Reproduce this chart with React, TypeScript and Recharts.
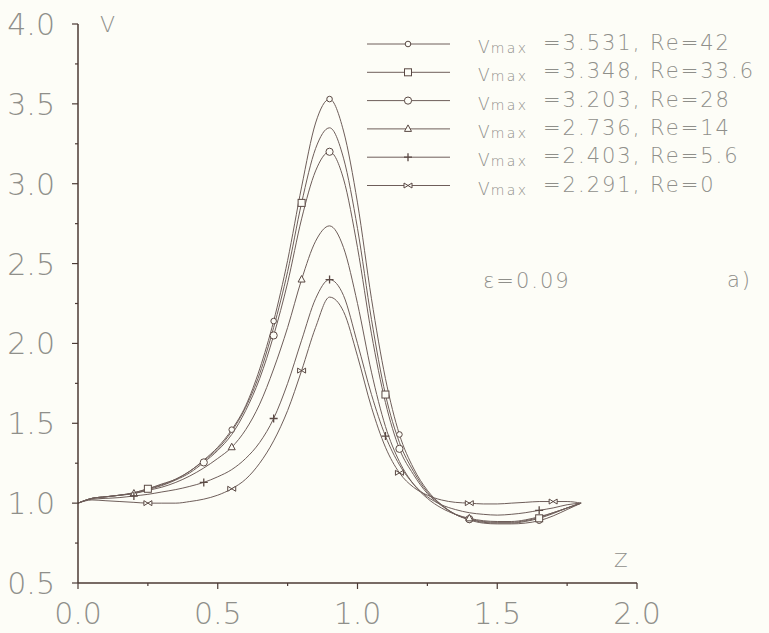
import { ComposedChart, Line, XAxis, YAxis, Legend } from "recharts";

// axial positions shared by all profiles
const zGrid = [
  0, 0.05, 0.1, 0.15, 0.2, 0.25, 0.3, 0.35, 0.4, 0.45, 0.5, 0.55, 0.6, 0.65, 0.7, 0.75, 0.8, 0.85, 0.9,
  0.95, 1.0, 1.05, 1.1, 1.15, 1.2, 1.25, 1.3, 1.35, 1.4, 1.45, 1.5, 1.55, 1.6, 1.65, 1.7, 1.75, 1.8,
];

const re42 = [
  1.0, 1.03, 1.04, 1.05, 1.065, 1.09, 1.12, 1.15, 1.2, 1.27, 1.35, 1.46, 1.61, 1.84, 2.14, 2.52, 2.98, 3.38, 3.53,
  3.33, 2.88, 2.28, 1.78, 1.43, 1.22, 1.08, 0.99, 0.93, 0.895, 0.875, 0.87, 0.87, 0.875, 0.89, 0.92, 0.96, 1.0,
];
const re336 = [
  1.0, 1.03, 1.04, 1.05, 1.065, 1.09, 1.115, 1.15, 1.2, 1.265, 1.34, 1.45, 1.6, 1.81, 2.1, 2.45, 2.88, 3.22, 3.35,
  3.16, 2.72, 2.15, 1.68, 1.38, 1.2, 1.07, 0.99, 0.93, 0.9, 0.88, 0.875, 0.875, 0.885, 0.905, 0.935, 0.97, 1.0,
];
const re28 = [
  1.0, 1.03, 1.04, 1.05, 1.06, 1.085, 1.11, 1.145, 1.19, 1.255, 1.33, 1.43, 1.58, 1.78, 2.05, 2.38, 2.78, 3.08, 3.2,
  3.03, 2.6, 2.06, 1.63, 1.34, 1.18, 1.06, 0.985, 0.93, 0.9, 0.885, 0.88, 0.88, 0.89, 0.91, 0.94, 0.97, 1.0,
];
const re14 = [
  1.0, 1.03, 1.04, 1.05, 1.06, 1.08, 1.1, 1.13, 1.17, 1.22, 1.28, 1.35, 1.46, 1.62, 1.84, 2.1, 2.4, 2.64, 2.736,
  2.6, 2.25, 1.82, 1.48, 1.26, 1.12, 1.03, 0.97, 0.93, 0.905, 0.89, 0.885, 0.885, 0.895, 0.915, 0.94, 0.97, 1.0,
];
const re56 = [
  1.0, 1.025, 1.03, 1.035, 1.045, 1.055, 1.07, 1.085, 1.105, 1.13, 1.165, 1.21, 1.28, 1.38, 1.53, 1.75, 2.02, 2.28, 2.4,
  2.3, 2.0, 1.68, 1.42, 1.24, 1.12, 1.04, 0.99, 0.96, 0.94, 0.93, 0.925, 0.93, 0.94, 0.955, 0.97, 0.99, 1.0,
];
const re0 = [
  1.0, 1.02, 1.015, 1.01, 1.005, 1.0, 1.0, 1.0, 1.01, 1.025, 1.05, 1.09, 1.15, 1.25, 1.39, 1.58, 1.83, 2.1, 2.29,
  2.2, 1.92, 1.6, 1.35, 1.19, 1.1, 1.05, 1.02, 1.005, 1.0, 0.995, 0.995, 1.0, 1.005, 1.01, 1.01, 1.01, 1.0,
];

const vmaxLabels = ["3.531", "3.348", "3.203", "2.736", "2.403", "2.291"];
const reLabels = ["42", "33.6", "28", "14", "5.6", "0"];

const xTicks = [0, 0.25, 0.5, 0.75, 1.0, 1.25, 1.5, 1.75, 2.0];
const yTicks = [0.5, 0.75, 1.0, 1.25, 1.5, 1.75, 2.0, 2.25, 2.5, 2.75, 3.0, 3.25, 3.5, 3.75, 4.0];

const series = [
  { key: "re42", values: re42, shape: "circle", marks: [0.55, 0.7, 0.9, 1.15, 1.4, 1.65] },
  { key: "re336", values: re336, shape: "square", marks: [0.25, 0.8, 1.1, 1.65] },
  { key: "re28", values: re28, shape: "hex", marks: [0.45, 0.7, 0.9, 1.15, 1.4] },
  { key: "re14", values: re14, shape: "triangle", marks: [0.2, 0.55, 0.8, 1.4] },
  { key: "re56", values: re56, shape: "plus", marks: [0.2, 0.45, 0.7, 0.9, 1.1, 1.65] },
  { key: "re0", values: re0, shape: "cross", marks: [0.25, 0.55, 0.8, 1.15, 1.4, 1.7] },
];

const AXIS = "#4b3a35";
const CURVE = "#6e5e5a";
const TEXT = "#8f8f8a";
const BG = "#fdfdf7";
const FONT = "'DejaVu Sans', 'Liberation Sans', sans-serif";

function Marker({ kind, cx, cy }: { kind: string; cx: number; cy: number }) {
  const common = { stroke: "#5a4944", strokeWidth: 1, fill: BG };
  switch (kind) {
    case "circle":
      return <circle cx={cx} cy={cy} r={2.8} {...common} />;
    case "square":
      return <rect x={cx - 3.5} y={cy - 3.5} width={7} height={7} {...common} />;
    case "hex":
      return <circle cx={cx} cy={cy} r={3.6} {...common} />;
    case "triangle":
      return <polygon points={`${cx},${cy - 4} ${cx + 3.5},${cy + 2.5} ${cx - 3.5},${cy + 2.5}`} {...common} />;
    case "plus":
      return <path d={`M${cx - 4},${cy}H${cx + 4}M${cx},${cy - 4}V${cy + 4}`} {...common} fill="none" strokeWidth={1.3} />;
    default:
      return (
        <path
          d={`M${cx - 4},${cy - 2.5}L${cx + 4},${cy + 2.5}L${cx + 4},${cy - 2.5}L${cx - 4},${cy + 2.5}Z`}
          {...common}
        />
      );
  }
}

const isMajor = (v: number) => Math.abs(v * 2 - Math.round(v * 2)) < 1e-6;

const XTick = (props: any) => {
  const { x, y, payload } = props;
  const major = isMajor(payload.value);
  return (
    <g>
      <line x1={x} x2={x} y1={y} y2={y + (major ? 6 : 3)} stroke={AXIS} strokeWidth={1.2} />
      {major && (
        <text x={x} y={y + 41} textAnchor="middle" fontFamily={FONT} fontWeight={200} fontSize={30} fill={TEXT}>
          {payload.value.toFixed(1)}
        </text>
      )}
    </g>
  );
};

const YTick = (props: any) => {
  const { x, y, payload } = props;
  const major = isMajor(payload.value);
  return (
    <g>
      <line x1={x - (major ? 6 : 3)} x2={x} y1={y} y2={y} stroke={AXIS} strokeWidth={1.2} />
      {major && (
        <text x={x - 23} y={y + 11} textAnchor="end" fontFamily={FONT} fontWeight={200} fontSize={30} fill={TEXT}>
          {payload.value.toFixed(1)}
        </text>
      )}
    </g>
  );
};

function Annotations() {
  return (
    <svg width={769} height={633} style={{ position: "absolute", left: 0, top: 0 }}>
      {series.map((s, i) => {
        const y = 44 + i * 28.3;
        return (
          <g key={s.key}>
            <line x1={367} x2={450} y1={y} y2={y} stroke={CURVE} strokeWidth={1} />
            <Marker kind={s.shape} cx={408} cy={y} />
            <text x={478} y={y + 9} fontFamily={FONT} fontWeight={200} fill={TEXT}>
              <tspan fontSize={17} letterSpacing={1}>
                V
              </tspan>
              <tspan fontSize={14} letterSpacing={2.5}>
                max
              </tspan>
            </text>
            <text x={543} y={y + 6} fontFamily={FONT} fontWeight={200} fill={TEXT} fontSize={21} letterSpacing={2}>
              {`=${vmaxLabels[i]}, Re=${reLabels[i]}`}
            </text>
          </g>
        );
      })}
      <text x={483} y={288} fontFamily={FONT} fontWeight={200} fill={TEXT} fontSize={21} letterSpacing={2}>
        ε=0.09
      </text>
      <text x={727} y={287} fontFamily={FONT} fontWeight={200} fill={TEXT} fontSize={21} letterSpacing={2}>
        a)
      </text>
      <text x={100} y={32} fontFamily={FONT} fontWeight={200} fill={TEXT} fontSize={22}>
        V
      </text>
      <text x={614} y={567} fontFamily={FONT} fontWeight={200} fill={TEXT} fontSize={20}>
        Z
      </text>
    </svg>
  );
}

export default function App() {
  return (
    <div style={{ position: "absolute", left: 0, top: 0, width: 769, height: 633, background: BG }}>
      <ComposedChart width={769} height={633} margin={{ top: 24, right: 132, bottom: 0, left: 0 }}>
        <XAxis
          type="number"
          dataKey="z"
          domain={[0, 2]}
          ticks={xTicks}
          interval={0}
          height={50}
          tickSize={0}
          tickMargin={0}
          tickLine={false}
          axisLine={{ stroke: AXIS, strokeWidth: 1.5 }}
          tick={<XTick />}
          allowDataOverflow
        />
        <YAxis
          type="number"
          dataKey="v"
          domain={[0.5, 4]}
          ticks={yTicks}
          interval={0}
          width={78}
          tickSize={0}
          tickMargin={0}
          tickLine={false}
          axisLine={{ stroke: AXIS, strokeWidth: 1.5 }}
          tick={<YTick />}
          allowDataOverflow
        />
        {series.map((s) => (
          <Line
            key={s.key}
            data={zGrid.map((z, i) => ({ z, v: s.values[i] }))}
            dataKey="v"
            type="monotone"
            stroke={CURVE}
            strokeWidth={1}
            isAnimationActive={false}
            dot={(p: any) =>
              s.marks.includes(p.payload.z) ? (
                <Marker key={`${s.key}-${p.index}`} kind={s.shape} cx={p.cx} cy={p.cy} />
              ) : (
                <g key={`${s.key}-${p.index}`} />
              )
            }
            activeDot={false}
          />
        ))}
        <Legend
          layout="horizontal"
          align="center"
          verticalAlign="middle"
          wrapperStyle={{ left: 0, top: 0, width: 769, height: 633, pointerEvents: "none" }}
          content={() => <Annotations />}
        />
      </ComposedChart>
    </div>
  );
}
